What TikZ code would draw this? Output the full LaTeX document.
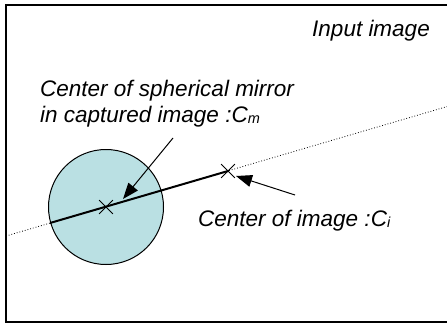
\documentclass[tikz,border=0pt]{standalone}
\usepackage{fontspec}
\setmainfont{Liberation Sans}
\usetikzlibrary{arrows.meta,shapes.misc}
\definecolor{mirrorcol}{RGB}{186,224,227}
\begin{document}
\begin{tikzpicture}[x=1pt, y=-1pt,
		lbl/.style={font=\fontsize{22.5}{25.5}\selectfont\itshape, inner sep=0pt, align=left},
		xmark/.style={cross out, draw, thick, minimum size=13pt, inner sep=0pt},
		pointer/.style={-{Triangle[length=16pt,width=12pt]}, line width=1pt}]
	\useasboundingbox (0,0) rectangle (447,324);
	\draw[line width=1.5pt] (449,5) -- (6,5) -- (6,322) -- (449,322);

	\node (mirror)[circle, draw, line width=1pt, fill=mirrorcol, minimum size=115pt, inner sep=0pt] at (106,207) {};

	\node (Cm)[xmark] at (106,207) {};
	\node (Ci)[xmark] at (228,171) {};

	\coordinate (left) at (6,236);
	\coordinate (right) at (449,106);
	\coordinate (edge) at (50,223);

	\draw[dotted, line width=0.8pt] (left) -- (right);
	\draw[line width=2pt] (edge) -- (Ci.center);

	\node (input)[lbl, anchor=base east] at (430,36) {Input image};
	\node (txtm)[lbl, anchor=base west] at (40,122) {Center of spherical mirror\\in captured image :C\raisebox{-1pt}{\fontsize{14.5}{14.5}\selectfont m}};
	\node (txti)[lbl, anchor=base west] at (198,226) {Center of image :C\raisebox{-1pt}{\fontsize{14.5}{14.5}\selectfont i}};

	\coordinate (m1) at (173,138);
	\coordinate (m2) at (123,199);
	\coordinate (i1) at (295,195);
	\coordinate (i2) at (236,176);

	\draw[pointer] (m1) -- (m2);
	\draw[pointer] (i1) -- (i2);
\end{tikzpicture}
\end{document}
